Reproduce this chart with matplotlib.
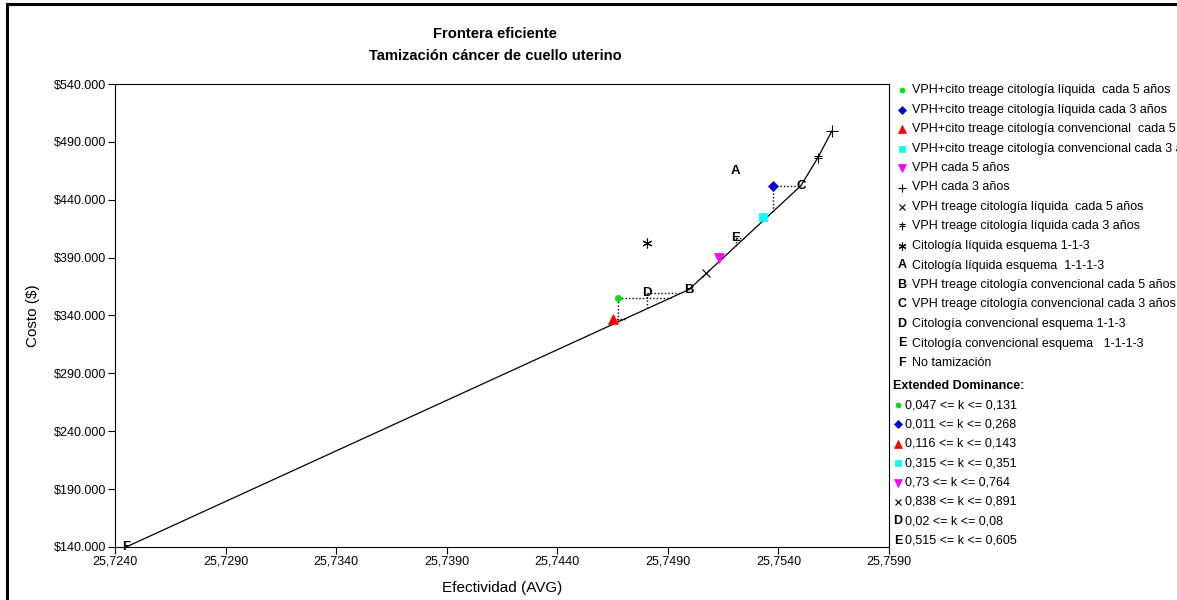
import numpy as np
import matplotlib.pyplot as plt
from matplotlib.path import Path
from matplotlib.lines import Line2D
from matplotlib.patches import Rectangle
from matplotlib.ticker import FuncFormatter

plt.rcParams['font.family'] = ['Liberation Sans', 'DejaVu Sans']

# strategies: effectiveness (AVG) and cost ($)
names = ["VPH+cito treage citología líquida  cada 5 años",
         "VPH+cito treage citología líquida cada 3 años",
         "VPH+cito treage citología convencional  cada 5 años",
         "VPH+cito treage citología convencional cada 3 años",
         "VPH cada 5 años",
         "VPH cada 3 años",
         "VPH treage citología líquida  cada 5 años",
         "VPH treage citología líquida cada 3 años",
         "Citología líquida esquema 1-1-3",
         "Citología líquida esquema  1-1-1-3",
         "VPH treage citología convencional cada 5 años",
         "VPH treage citología convencional cada 3 años",
         "Citología convencional esquema 1-1-3",
         "Citología convencional esquema   1-1-1-3",
         "No tamización"]
effect = [25.74674, 25.75375, 25.74652, 25.75330, 25.75131, 25.75642, 25.75072,
          25.75578, 25.74805, 25.75208, 25.74995, 25.75501, 25.74805, 25.75208, 25.72450]
cost = [355500, 452000, 337400, 425300, 390000, 499450, 377000,
        476200, 402900, 465000, 362400, 452000, 359800, 407200, 140000]

# frontier (non-dominated): F, B, C, VPH treage liq 3, VPH cada 3
frontier_idx = [14, 10, 11, 7, 5]
# extended dominance
ext_idx = [0, 1, 2, 3, 4, 6, 12, 13]
ext_labels = ["0,047 <= k <= 0,131", "0,011 <= k <= 0,268", "0,116 <= k <= 0,143",
              "0,315 <= k <= 0,351", "0,73 <= k <= 0,764", "0,838 <= k <= 0,891",
              "0,02 <= k <= 0,08", "0,515 <= k <= 0,605"]

xticks = [25.7240, 25.7290, 25.7340, 25.7390, 25.7440, 25.7490, 25.7540, 25.7590]
yticks = [140000, 190000, 240000, 290000, 340000, 390000, 440000, 490000, 540000]

# ‡-like marker
dagger = Path([(0, -1), (0, 1), (-0.75, 0.45), (0.75, 0.45), (-0.75, -0.05), (0.75, -0.05)],
              [Path.MOVETO, Path.LINETO, Path.MOVETO, Path.LINETO, Path.MOVETO, Path.LINETO])

styles = [dict(marker='o', color='#00e000', ms=4.5),
          dict(marker='D', color='#0000e0', ms=5),
          dict(marker='^', color='#ff0000', ms=7),
          dict(marker='s', color='#00ffff', ms=6),
          dict(marker='v', color='#ff00ff', ms=7),
          dict(marker='+', color='black', ms=8, mew=0.8),
          dict(marker='x', color='black', ms=6, mew=0.8),
          dict(marker=dagger, color='black', ms=7, mew=0.8),
          dict(marker=(6, 2, 0), color='black', ms=7, mew=0.8),
          'A', 'B', 'C', 'D', 'E', 'F']

fig = plt.figure(figsize=(11.77, 6.0), dpi=100)
ax = fig.add_axes([115 / 1177, 53 / 600, 774 / 1177, 463 / 600])

fx = np.array([effect[i] for i in frontier_idx])
fy = np.array([cost[i] for i in frontier_idx])
ax.plot(fx, fy, color='black', lw=0.9, zorder=2)

# dotted lines for extended dominance
for i in ext_idx:
    x, y = effect[i], cost[i]
    xh = np.interp(y, fy, fx)
    yv = np.interp(x, fx, fy)
    if xh > x:
        ax.plot([x, xh], [y, y], color='black', ls=(0, (1, 1.5)), lw=1.0, zorder=1)
    if yv < y:
        ax.plot([x, x], [y, yv], color='black', ls=(0, (1, 1.5)), lw=1.0, zorder=1)

for i, st in enumerate(styles):
    if isinstance(st, str):
        ax.text(effect[i], cost[i], st, ha='center', va='center', fontsize=9.5,
                fontweight='bold', zorder=4)
    else:
        ax.plot([effect[i]], [cost[i]], ls='none', marker=st['marker'], color=st['color'],
                ms=st['ms'], mew=st.get('mew', 0.5), zorder=3)

ax.set_xlim(xticks[0], xticks[-1])
ax.set_ylim(yticks[0], yticks[-1])
ax.set_xticks(xticks)
ax.set_yticks(yticks)
ax.xaxis.set_major_formatter(FuncFormatter(lambda v, p: f"{v:.4f}".replace('.', ',')))
ax.yaxis.set_major_formatter(FuncFormatter(lambda v, p: "$" + f"{v:,.0f}".replace(',', '.')))
ax.tick_params(labelsize=9, length=5, width=0.8, pad=1.5, direction='out')
ax.tick_params(axis='x', pad=1)
for s in ax.spines.values():
    s.set_linewidth(0.8)
ax.set_xlabel("Efectividad (AVG)", fontsize=11, labelpad=10)
ax.set_ylabel("Costo ($)", fontsize=11, labelpad=10)

fig.text(495 / 1177, 1 - 34 / 600, "Frontera eficiente", ha='center', va='center',
         fontsize=10.6, fontweight='bold')
fig.text(495 / 1177, 1 - 56 / 600, "Tamización cáncer de cuello uterino", ha='center',
         va='center', fontsize=10.6, fontweight='bold')

# legend
def legend_mark(xp, yp, st):
    X, Y = xp / 1177, 1 - yp / 600
    if isinstance(st, str):
        fig.text(X, Y, st, ha='center', va='center', fontsize=9, fontweight='bold')
    else:
        fig.add_artist(Line2D([X], [Y], ls='none', marker=st['marker'], color=st['color'],
                              ms=st['ms'] * 0.8, mew=st.get('mew', 0.5),
                              transform=fig.transFigure))

for k, (nm, st) in enumerate(zip(names, styles)):
    yp = 90 + k * 19.5
    legend_mark(902, yp, st)
    fig.text(912 / 1177, 1 - yp / 600, nm, ha='left', va='center', fontsize=9)

fig.text(893 / 1177, 1 - 386 / 600, "Extended Dominance:", ha='left', va='center',
         fontsize=9, fontweight='bold')
for k, (i, lab) in enumerate(zip(ext_idx, ext_labels)):
    yp = 405 + k * 19.4
    legend_mark(898, yp, styles[i])
    fig.text(905 / 1177, 1 - yp / 600, lab, ha='left', va='center', fontsize=9)

fig.add_artist(Rectangle((7 / 1177, -0.05), 1.2, 1 - 4 / 600 + 0.05, fill=False,
                         lw=2.2, ec='black', transform=fig.transFigure))

fig.savefig("out.png", dpi=100)
